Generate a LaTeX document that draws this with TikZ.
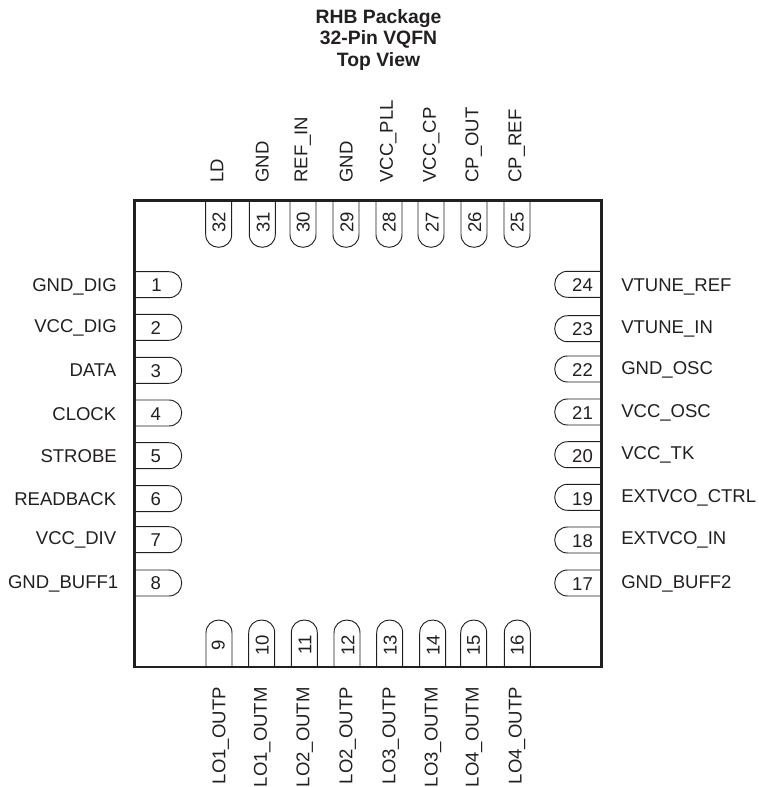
\documentclass[tikz,border=0pt]{standalone}
\usepackage{fontspec}
\setmainfont{Liberation Sans}
\definecolor{inkgray}{HTML}{231F20}
\tikzset{
    pinout/.pic={\draw[inkgray, line width=.7pt] (0,-13) -- (34,-13) .. controls (42,-13) and (47,-7) .. (47,0) .. controls (47,7) and (42,13) .. (34,13) -- (0,13);},
    pinnum/.style={inner sep=0pt, text=inkgray, text height=10pt, text depth=0pt, font=\fontsize{13.9}{15}\selectfont},
    pinnumv/.style={pinnum, rotate=90},
    leftlab/.style={pinnum, anchor=east},
    rightlab/.style={pinnum, anchor=west},
    toplab/.style={pinnum, rotate=90, anchor=west},
    botlab/.style={pinnum, rotate=90, anchor=east},
}
\begin{document}
\begin{tikzpicture}[x=.75pt, y=-.75pt]
\useasboundingbox (0,0) rectangle (758,787);

\node[inner sep=0pt, align=center, text=inkgray, font=\fontsize{14.5}{16.2}\selectfont\bfseries] (title) at (378.5,40) {RHB Package\\32-Pin VQFN\\Top View};

% left side
\pic at (134.7,284.7) {pinout};
\pic at (134.7,327.3) {pinout};
\pic at (134.7,370.3) {pinout};
\pic at (134.7,413) {pinout};
\pic at (134.7,455.7) {pinout};
\pic at (134.7,498.7) {pinout};
\pic at (134.7,539.7) {pinout};
\pic at (134.7,583) {pinout};
\node[pinnum] (n1) at (156.5,284.5) {1};
\node[pinnum] (n2) at (155.7,328) {2};
\node[pinnum] (n3) at (155.7,371) {3};
\node[pinnum] (n4) at (155.7,414) {4};
\node[pinnum] (n5) at (155.7,455.8) {5};
\node[pinnum] (n6) at (155.7,498.8) {6};
\node[pinnum] (n7) at (155.7,539.5) {7};
\node[pinnum] (n8) at (155.7,583) {8};
\node[leftlab] (gnddig) at (117,285.3) {GND\_DIG};
\node[leftlab] (vccdig) at (117,325.7) {VCC\_DIG};
\node[leftlab] (data) at (116.5,370.3) {DATA};
\node[leftlab] (clock) at (116.5,413.7) {CLOCK};
\node[leftlab] (strobe) at (117,456.3) {STROBE};
\node[leftlab] (readback) at (116.5,499) {READBACK};
\node[leftlab] (vccdiv) at (116.5,538.3) {VCC\_DIV};
\node[leftlab] (gndbuffa) at (118.5,581.7) {GND\_BUFF1};

% right side
\pic[rotate=180] at (601.7,284.3) {pinout};
\pic[rotate=180] at (601.7,328.7) {pinout};
\pic[rotate=180] at (601.7,369) {pinout};
\pic[rotate=180] at (601.7,412) {pinout};
\pic[rotate=180] at (601.7,454.7) {pinout};
\pic[rotate=180] at (601.7,497.3) {pinout};
\pic[rotate=180] at (601.7,540) {pinout};
\pic[rotate=180] at (601.7,583) {pinout};
\node[pinnum] (n24) at (582.5,285) {24};
\node[pinnum] (n23) at (582.5,328.8) {23};
\node[pinnum] (n22) at (582.5,369.5) {22};
\node[pinnum] (n21) at (582.5,412.5) {21};
\node[pinnum] (n20) at (582.5,455.8) {20};
\node[pinnum] (n19) at (582.5,498.5) {19};
\node[pinnum] (n18) at (582.5,541) {18};
\node[pinnum] (n17) at (582.5,584) {17};
\node[rightlab] (vtuneref) at (621,284.5) {VTUNE\_REF};
\node[rightlab] (vtunein) at (621,327) {VTUNE\_IN};
\node[rightlab] (gndosc) at (621,367.8) {GND\_OSC};
\node[rightlab] (vccosc) at (621,410.7) {VCC\_OSC};
\node[rightlab] (vcctk) at (621,453.3) {VCC\_TK};
\node[rightlab] (extctrl) at (621,496) {EXTVCO\_CTRL};
\node[rightlab] (extin) at (621,538.3) {EXTVCO\_IN};
\node[rightlab] (gndbuffb) at (621,582.3) {GND\_BUFF2};

% top side
\pic[rotate=-90] at (218.7,200.3) {pinout};
\pic[rotate=-90] at (262.3,200.3) {pinout};
\pic[rotate=-90] at (303,200.3) {pinout};
\pic[rotate=-90] at (346,200.3) {pinout};
\pic[rotate=-90] at (389,200.3) {pinout};
\pic[rotate=-90] at (431,200.3) {pinout};
\pic[rotate=-90] at (474,200.3) {pinout};
\pic[rotate=-90] at (517,200.3) {pinout};
\node[pinnumv] (n32) at (218.8,222) {32};
\node[pinnumv] (n31) at (263,222) {31};
\node[pinnumv] (n30) at (303,222) {30};
\node[pinnumv] (n29) at (346.7,222) {29};
\node[pinnumv] (n28) at (389,222) {28};
\node[pinnumv] (n27) at (432,222) {27};
\node[pinnumv] (n26) at (474.5,222) {26};
\node[pinnumv] (n25) at (517,222) {25};
\node[toplab] (ld) at (216.7,183) {LD};
\node[toplab] (gnda) at (262,183) {GND};
\node[toplab] (refin) at (300.7,183) {REF\_IN};
\node[toplab] (gndb) at (346,183) {GND};
\node[toplab] (vccpll) at (386.3,183) {VCC\_PLL};
\node[toplab] (vcccp) at (429.3,183) {VCC\_CP};
\node[toplab] (cpout) at (471.7,183) {CP\_OUT};
\node[toplab] (cpref) at (514.7,183) {CP\_REF};

% bottom side
\pic[rotate=90] at (219,667) {pinout};
\pic[rotate=90] at (261.7,667) {pinout};
\pic[rotate=90] at (304.3,667) {pinout};
\pic[rotate=90] at (347,667) {pinout};
\pic[rotate=90] at (389.7,667) {pinout};
\pic[rotate=90] at (432.7,667) {pinout};
\pic[rotate=90] at (473.7,667) {pinout};
\pic[rotate=90] at (517.3,667) {pinout};
\node[pinnumv] (n9) at (218,645) {9};
\node[pinnumv] (n10) at (262,645) {10};
\node[pinnumv] (n11) at (304.7,645) {11};
\node[pinnumv] (n12) at (347.8,645) {12};
\node[pinnumv] (n13) at (390,645) {13};
\node[pinnumv] (n14) at (433,645) {14};
\node[pinnumv] (n15) at (473.3,645) {15};
\node[pinnumv] (n16) at (517,645) {16};
\node[botlab] (loaoutp) at (218.7,687) {LO1\_OUTP};
\node[botlab] (loaoutm) at (260.3,687) {LO1\_OUTM};
\node[botlab] (lououtm) at (302.7,687) {LO2\_OUTM};
\node[botlab] (lououtp) at (345.7,687) {LO2\_OUTP};
\node[botlab] (locoutp) at (388.7,687) {LO3\_OUTP};
\node[botlab] (locoutm) at (431,687) {LO3\_OUTM};
\node[botlab] (lodoutm) at (472,687) {LO4\_OUTM};
\node[botlab] (lodoutp) at (515,687) {LO4\_OUTP};

\draw[inkgray, line width=2pt] (134.7,200.3) rectangle (601.7,667);
\end{tikzpicture}
\end{document}
